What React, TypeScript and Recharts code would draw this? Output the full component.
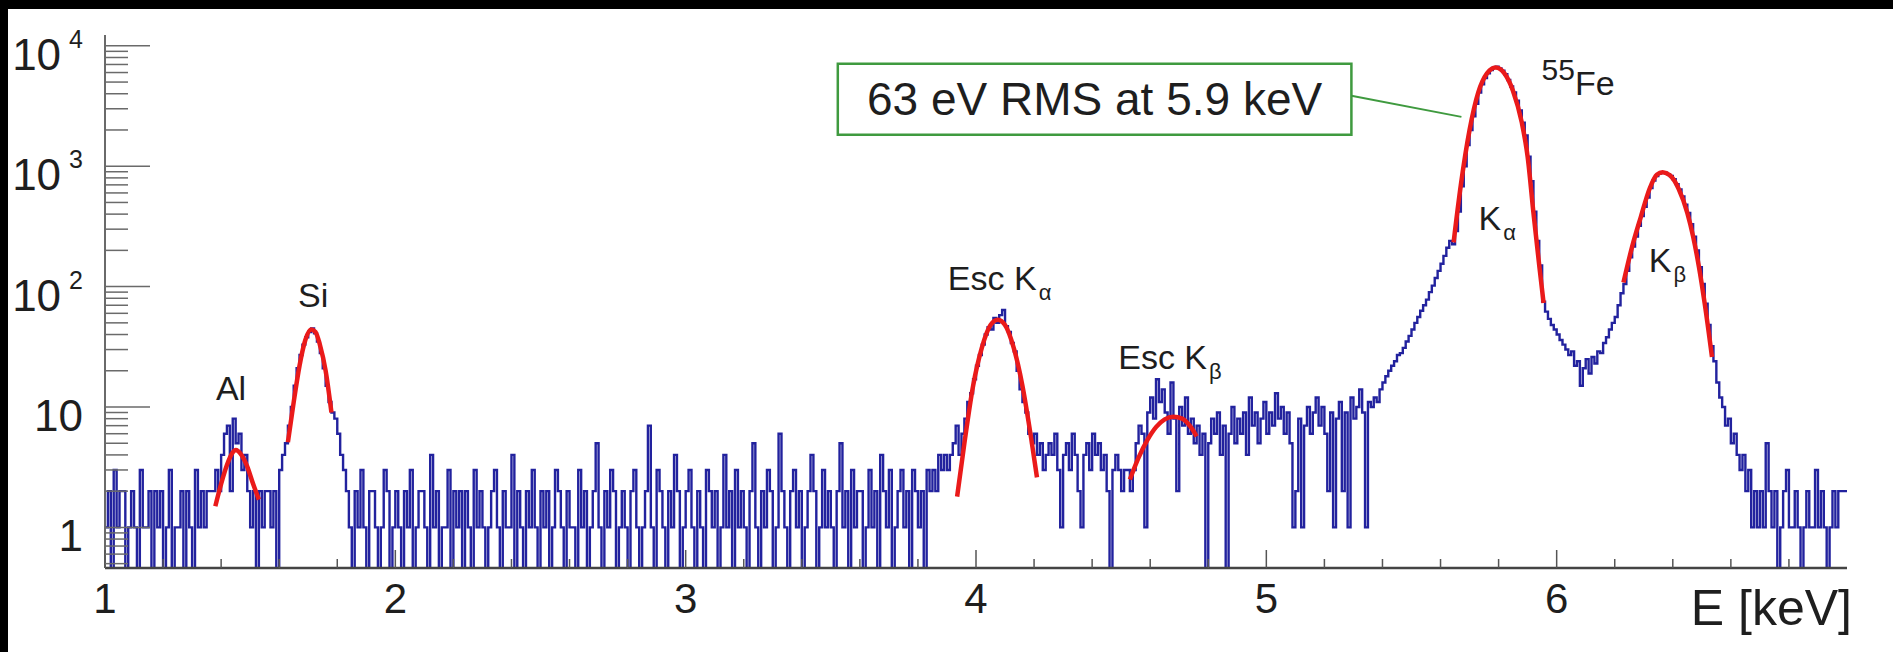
import { LineChart, Line, XAxis, YAxis, ReferenceArea, ReferenceLine, ReferenceDot } from 'recharts';

const W = 1893;
const H = 652;
const FONT = '"Liberation Sans", Arial, Helvetica, sans-serif';
const INK = '#1e1e1e';
const HIST_BLUE = '#22229e';
const FIT_RED = '#ea1a1a';
const BOX_GREEN = '#3f9a3f';

// counts per 10 eV bin, first bin starts at 1.00 keV
const cntLow    = [1,2,0,3,1,2,2,0,1,2, 1,0,3,1,1,2,0,2,1,2, 0,1,3,0,1,1,2,0,2,1, 0,3,1,2,1,2,2];           // 1.00-1.36
const cntAl     = [2,3,2,4,6,7,2,8,5,6,3,4,2,1,2];                                                         // 1.37-1.51
const cntGap    = [0,2,1,2,2,1,2,0];                                                                       // 1.52-1.59
const cntSi     = [3,4,5,7,10,15,21,27,33,38, 42,45,41,35,28,21,15,11,9,8, 6,4,3,2];                       // 1.60-1.83
const cntFlat   = [                                                                                        // 1.84-3.87
  1,0,2,1,3,1,0,2,2,1,0,1,3,2,0,1,2,1,0,2,
  1,3,0,1,2,2,1,0,4,1,2,0,1,1,3,0,2,1,2,0,
  2,1,0,3,1,2,1,0,1,2,3,1,0,2,1,1,4,0,2,1,
  0,2,1,3,1,0,2,1,2,0,1,3,2,1,0,2,1,1,0,3,
  1,2,0,1,2,5,1,0,2,1,3,2,0,1,2,1,0,2,3,1,
  0,1,2,7,1,0,3,2,1,0,2,1,4,2,0,1,2,3,1,0,
  2,1,0,3,2,1,2,0,1,4,1,2,0,3,1,2,1,0,2,5,
  1,0,2,1,3,2,0,1,6,2,1,0,2,3,1,2,0,1,2,4,
  2,0,1,3,1,2,1,0,2,5,1,2,0,3,1,2,2,0,1,3,
  1,2,0,4,2,1,3,0,1,2,3,1,2,0,3,2,1,2,0,3,
  2,3,2,4,
];
const cntEscKa  = [3,4,3,4,5,7,4,6,8,11, 13,17,22,27,33,40,46,44,55,50, 58,64,47,42,34,29,20,14,11,9, 6,5,6,4,5,3,4]; // 3.88-4.24
const cntMid    = [5,4,6,3,1,4,5,3,6,4, 2,1,4,5,3,6,4,5,3,4, 2,0,3,4,3,2,3];                               // 4.25-4.51
const cntEscKb  = [3,2,3,5,7,6,1,9,12,8, 17,11,14,9,6,16,8,2,10,7, 12,6,8,5,7,4,6,0];                      // 4.52-4.79
const cntShelf  = [                                                                                        // 4.80-5.35
  5,8,6,9,4,7,0,6,10,5, 8,6,9,4,12,7,9,5,8,11, 6,9,7,13,8,10,6,9,5,1,
  2,8,1,7,10,6,9,12,7,10, 6,2,9,1,8,11,2,9,1,12, 8,10,14,9,1,11,
];
const cntRise   = [10,12,11,14,16,18,20,22,24,27, 28,31,35,39,44,50,56,63,70,78, 90,102,118,135,155,180,210,240]; // 5.36-5.63
const cntKa     = [225,290,420,680,1000,1500,2000,2600,3300,4100, 4800,5400,5900,6300,6600,6700,6500,6200,5800,5200,
                   4600,4100,3500,2900,2300,1800,1200,750,420,240, 150];                                   // 5.64-5.94
const cntValley = [75,62,54,48,44,40,36,33,30,27, 29,22,24,15,21,25,19,26,23,29, 28,34,38,44,50,56,70,88]; // 5.95-6.22
const cntKb     = [105,135,175,215,260,320,385,460,550,660, 760,830,870,890,885,860,830,780,710,640,
                   560,480,410,330,260,200,145,105,72,48, 32];                                             // 6.23-6.53
const cntTail   = [24,16,12,10,7,8,5,6,4,3, 4,2,3,1,2,1,2,1,5,2, 1,2,0,1,2,3,1,1,2,1, 0,1,2,1,1,3,1,2,1,0, 1,2,1,2,2,2]; // 6.54-6.99

const COUNTS = [
  ...cntLow, ...cntAl, ...cntGap, ...cntSi, ...cntFlat, ...cntEscKa, ...cntMid,
  ...cntEscKb, ...cntShelf, ...cntRise, ...cntKa, ...cntValley, ...cntKb, ...cntTail,
];

// fitted gaussians, [E keV, counts]
const FIT_AL     = [[1.38,1.5],[1.40,2.3],[1.42,3.3],[1.44,4.2],[1.45,4.4],[1.47,4.0],[1.49,3.2],[1.51,2.3],[1.53,1.7]];
const FIT_SI     = [[1.63,5.1],[1.65,11],[1.67,22],[1.69,36],[1.71,44],[1.725,42],[1.74,33],[1.76,20],[1.78,9]];
const FIT_ESC_KA = [[3.935,1.8],[3.96,5],[3.99,15],[4.02,31],[4.05,48],[4.075,53],[4.10,48],[4.13,31],[4.16,15],[4.19,5.5],[4.21,2.6]];
const FIT_ESC_KB = [[4.53,2.5],[4.56,3.8],[4.59,5.3],[4.62,6.8],[4.65,7.9],[4.68,8.3],[4.71,8.0],[4.74,6.8],[4.76,5.7]];
const FIT_KA     = [[5.645,233],[5.67,700],[5.70,2000],[5.73,4100],[5.76,5900],[5.79,6600],[5.82,5900],[5.85,4200],[5.88,2300],[5.90,1200],[5.92,410],[5.94,150],[5.955,73]];
const FIT_KB     = [[6.23,108],[6.26,215],[6.29,380],[6.32,650],[6.345,850],[6.365,890],[6.39,840],[6.42,650],[6.45,410],[6.47,260],[6.49,146],[6.51,72],[6.535,26]];
const FITS = [FIT_AL, FIT_SI, FIT_ESC_KA, FIT_ESC_KB, FIT_KA, FIT_KB];

const X_TICKS = [1,1.2,1.4,1.6,1.8,2,2.2,2.4,2.6,2.8,3,3.2,3.4,3.6,3.8,4,4.2,4.4,4.6,4.8,5,5.2,5.4,5.6,5.8,6,6.2,6.4,6.6,6.8];
const X_MAJOR = [1, 2, 3, 4, 5, 6];

const Y_MAJOR = [1, 10, 100, 1000, 10000];
const Y_BASE  = ['1', '10', '10', '10', '10'];
const Y_EXP   = ['', '', '2', '3', '4'];
const Y_MINOR = [0.5,0.6,0.7,0.8,0.9, 2,3,4,5,6,7,8,9, 20,30,40,50,60,70,80,90, 200,300,400,500,600,700,800,900, 2000,3000,4000,5000,6000,7000,8000,9000];

const PEAK_LABELS = [
  { e: 1.434, v: 11.5, main: 'Al', anchor: 'middle' },
  { e: 1.717, v: 68, main: 'Si', anchor: 'middle' },
  { e: 3.903, v: 94, main: 'Esc K', sub: 'α', anchor: 'start' },
  { e: 4.490, v: 20.5, main: 'Esc K', sub: 'β', anchor: 'start' },
  { e: 5.731, v: 297, main: 'K', sub: 'α', anchor: 'start' },
  { e: 6.317, v: 133, main: 'K', sub: 'β', anchor: 'start' },
  { e: 5.948, v: 3920, sup: '55', main: 'Fe', anchor: 'start' },
];

/* empty bins go below the frame, like ROOT on a log axis */
const histData = COUNTS.map((n, i) => ({ e: (100 + i) / 100, n: n > 0 ? n : 0.1 }));
histData.push({ e: 7, n: histData[histData.length - 1].n });

const toPts = (arr: number[][]) => arr.map(([e, n]) => ({ e, n }));

function XTick({ x, y, payload }: any) {
  const major = X_MAJOR.includes(payload.value);
  return (
    <g>
      <line x1={x} x2={x} y1={y} y2={y - (major ? 18 : 9)} stroke="#555" strokeWidth={1.5} />
      {major && (
        <text x={x} y={y + 45} textAnchor="middle" fontSize={42} fill={INK} fontFamily={FONT}>{payload.value}</text>
      )}
    </g>
  );
}

function YTick({ x, y, payload }: any) {
  const i = Y_MAJOR.indexOf(payload.value);
  const major = i >= 0;
  return (
    <g>
      <line x1={x} x2={x + (major ? 45 : 23)} y1={y} y2={y} stroke="#6a6a6a" strokeWidth={1.5} />
      {major && (
        <text x={x - 22} y={y + 24} textAnchor="end" fontSize={44} fill={INK} fontFamily={FONT}>
          {Y_BASE[i]}
          {Y_EXP[i] && <tspan dx={8} dy={-22} fontSize={25}>{Y_EXP[i]}</tspan>}
        </text>
      )}
    </g>
  );
}

function XTitle({ viewBox }: any) {
  const { x, y, width } = viewBox;
  return (
    <text x={x + width + 5} y={y + 57} textAnchor="end" fontSize={50} fill={INK} fontFamily={FONT}>E [keV]</text>
  );
}

function BoxText({ viewBox }: any) {
  const { x, y, width, height } = viewBox;
  return (
    <text x={x + width / 2} y={y + height / 2 + 16} textAnchor="middle" fontSize={46} fill={INK} fontFamily={FONT}>
      63 eV RMS at 5.9 keV
    </text>
  );
}

function PeakText({ viewBox, item }: any) {
  return (
    <text x={viewBox.x} y={viewBox.y} textAnchor={item.anchor} fontSize={34} fill={INK} fontFamily={FONT}>
      {item.sup && <tspan fontSize={30} dy={-15}>{item.sup}</tspan>}
      <tspan dy={item.sup ? 15 : 0}>{item.main}</tspan>
      {item.sub && <tspan fontSize={22} dx={2} dy={10}>{item.sub}</tspan>}
    </text>
  );
}

export default function App() {
  return (
    <div style={{ position: 'relative', width: W, height: H, background: '#fff', overflow: 'hidden' }}>
      <style>{'body{margin:0}'}</style>
      <LineChart width={W} height={H} data={histData} margin={{ top: 35, right: 46, bottom: 0, left: 0 }}>
        <XAxis
          dataKey="e" type="number" domain={[1, 7]} ticks={X_TICKS} interval={0} allowDataOverflow
          height={84} tickSize={0} tickMargin={0} tickLine={false} tick={XTick}
          axisLine={{ stroke: '#444', strokeWidth: 2.5 }}
          label={(p: any) => <XTitle {...p} />}
        />
        <XAxis xAxisId="top" orientation="top" type="number" domain={[1, 7]} height={0}
          tick={false} tickLine={false} axisLine={{ stroke: '#8a8a8a', strokeWidth: 2.5 }} />
        <YAxis
          type="number" scale="log" domain={[0.46, 12300]} allowDataOverflow
          ticks={[...Y_MINOR, ...Y_MAJOR]} interval={0} width={105}
          tickSize={0} tickMargin={0} tickLine={false} tick={YTick}
          axisLine={{ stroke: '#6a6a6a', strokeWidth: 2 }}
        />
        <YAxis yAxisId="right" orientation="right" type="number" domain={[0, 1]} width={0}
          tick={false} tickLine={false} axisLine={{ stroke: '#8a8a8a', strokeWidth: 2.5 }} />

        <Line dataKey="n" type="stepAfter" stroke={HIST_BLUE} strokeWidth={2.4} dot={false} isAnimationActive={false} />
        {FITS.map((f, i) => (
          <Line key={i} data={toPts(f)} dataKey="n" type="monotone" stroke={FIT_RED} strokeWidth={4.5}
            dot={false} isAnimationActive={false} />
        ))}

        {/* resolution box + pointer to the Ka peak */}
        <ReferenceArea x1={3.524} x2={5.293} y1={1825} y2={7090} fill="#fff" fillOpacity={1}
          stroke={BOX_GREEN} strokeWidth={2.5} label={(p: any) => <BoxText {...p} />} />
        <ReferenceLine segment={[{ x: 5.293, y: 3850 }, { x: 5.672, y: 2570 }]} stroke={BOX_GREEN} strokeWidth={2} />

        {PEAK_LABELS.map((p, i) => (
          <ReferenceDot key={i} x={p.e} y={p.v} r={0} fill="none" stroke="none"
            label={(lp: any) => <PeakText {...lp} item={p} />} />
        ))}
      </LineChart>
      {/* dark slide edges */}
      <div style={{ position: 'absolute', left: 0, top: 0, width: W, height: 9, background: '#000' }} />
      <div style={{ position: 'absolute', left: 0, top: 0, width: 8, height: H, background: '#000' }} />
    </div>
  );
}
